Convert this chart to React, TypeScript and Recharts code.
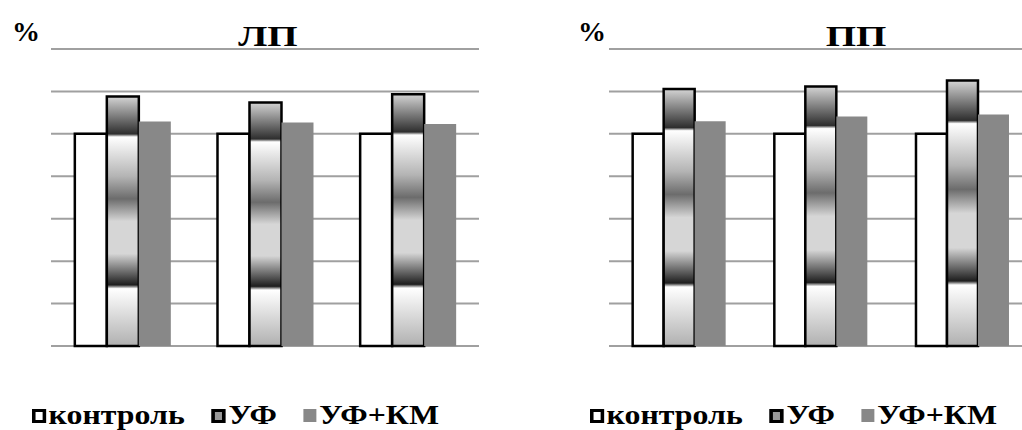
import React from 'react';
import { BarChart, Bar, XAxis, YAxis, CartesianGrid, Legend } from 'recharts';

const groups = ['1', '2', '3'];
const seriesNames = ['контроль', 'УФ', 'УФ+КМ'];
const yTicks = [0, 20, 40, 60, 80, 100, 120, 140];

const lpControl = [100, 100, 100];
const lpUv = [117.6, 114.8, 118.7];
const lpUvKm = [105.8, 105.3, 104.6];

const ppControl = [100, 100, 100];
const ppUv = [121.1, 122.3, 125.1];
const ppUvKm = [106, 108.2, 109.1];

const font = '"Liberation Serif", "Times New Roman", serif';

const makeRows = (control: number[], uv: number[], uvKm: number[]) =>
  groups.map((g, i) => ({ name: g, control: control[i], uv: uv[i], uvKm: uvKm[i] }));

const renderLegend = (props: any) => {
  const items = [...(props.payload || [])].sort(
    (a: any, b: any) => seriesNames.indexOf(a.value) - seriesNames.indexOf(b.value)
  );
  return (
    <div
      style={{
        display: 'flex',
        alignItems: 'center',
        fontFamily: font,
        fontWeight: 'bold',
        fontSize: 27,
        whiteSpace: 'nowrap',
        transform: 'scaleX(1.18)',
        transformOrigin: 'left center',
        color: '#000',
      }}
    >
      {items.map((p: any) => {
        const k = seriesNames.indexOf(p.value);
        let sq: React.CSSProperties = { width: 11, height: 13, background: '#888' };
        if (k === 0) sq = { width: 6, height: 8, border: '3px solid #000', background: '#fff' };
        if (k === 1) sq = { width: 6, height: 8, border: '3px solid #000', background: '#999' };
        return (
          <div key={p.value} style={{ display: 'flex', alignItems: 'center', marginRight: 23 }}>
            <div style={{ ...sq, marginRight: 2 }} />
            <span style={{ lineHeight: 1 }}>{p.value}</span>
          </div>
        );
      })}
    </div>
  );
};

const Panel = (props: {
  id: string;
  rows: any[];
  width: number;
  marginLeft: number;
  marginRight: number;
}) => {
  const { id, rows, width, marginLeft, marginRight } = props;
  return (
    <BarChart
      width={width}
      height={430}
      data={rows}
      margin={{ top: 49, right: marginRight, bottom: 84, left: marginLeft }}
      barCategoryGap="16.7%"
      barGap={0}
    >
      <defs>
        <linearGradient id={id} x1="0" y1="0" x2="0" y2="1">
          <stop offset="0%" stopColor="#d4d4d4" />
          <stop offset="15%" stopColor="#2e2e2e" />
          <stop offset="16.2%" stopColor="#ffffff" />
          <stop offset="32%" stopColor="#b4b4b4" />
          <stop offset="41%" stopColor="#6c6c6c" />
          <stop offset="50%" stopColor="#d6d6d6" />
          <stop offset="63%" stopColor="#d6d6d6" />
          <stop offset="75.5%" stopColor="#1e1e1e" />
          <stop offset="77%" stopColor="#ffffff" />
          <stop offset="100%" stopColor="#b0b0b0" />
        </linearGradient>
      </defs>
      <CartesianGrid vertical={false} stroke="#a0a0a0" strokeWidth={2} />
      <XAxis dataKey="name" hide />
      <YAxis
        domain={[0, 140]}
        ticks={yTicks}
        interval={0}
        width={0}
        tick={{ fontSize: 0 }}
        axisLine={false}
        tickLine={false}
      />
      <Legend
        verticalAlign="middle"
        layout="horizontal"
        content={renderLegend}
        wrapperStyle={{ top: 402, left: marginLeft - 19, width: 'auto' }}
      />
      <Bar dataKey="control" name={seriesNames[0]} fill="#ffffff" stroke="#000" strokeWidth={2.5} isAnimationActive={false} />
      <Bar dataKey="uv" name={seriesNames[1]} fill={`url(#${id})`} stroke="#000" strokeWidth={2.5} isAnimationActive={false} />
      <Bar dataKey="uvKm" name={seriesNames[2]} fill="#888888" isAnimationActive={false} />
    </BarChart>
  );
};

const textBase: React.CSSProperties = {
  position: 'absolute',
  fontFamily: font,
  fontWeight: 'bold',
  lineHeight: 1,
  color: '#000',
  whiteSpace: 'nowrap',
};

export default function App() {
  return (
    <div
      style={{
        position: 'absolute',
        left: 0,
        top: 0,
        width: 1022,
        height: 430,
        overflow: 'hidden',
        background: '#fff',
      }}
    >
      <div style={{ position: 'absolute', left: 0, top: 0 }}>
        <Panel id="uvGradL" rows={makeRows(lpControl, lpUv, lpUvKm)} width={511} marginLeft={51} marginRight={32} />
      </div>
      <div style={{ position: 'absolute', left: 511, top: 0 }}>
        <Panel id="uvGradR" rows={makeRows(ppControl, ppUv, ppUvKm)} width={553} marginLeft={98} marginRight={30} />
      </div>
      <div style={{ ...textBase, left: 12, top: 18, fontSize: 28 }}>%</div>
      <div style={{ ...textBase, left: 578, top: 18, fontSize: 28 }}>%</div>
      <div style={{ ...textBase, left: 268, top: 21, fontSize: 30, transform: 'translateX(-50%) scaleX(1.3)' }}>ЛП</div>
      <div style={{ ...textBase, left: 856, top: 21, fontSize: 30, transform: 'translateX(-50%) scaleX(1.3)' }}>ПП</div>
    </div>
  );
}
